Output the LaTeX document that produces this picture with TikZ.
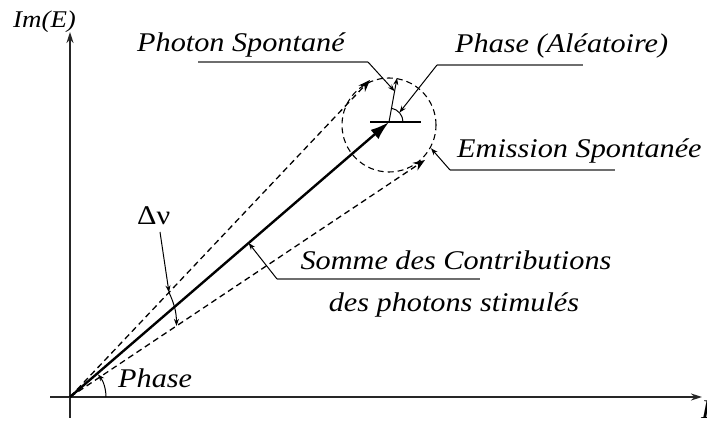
\documentclass[tikz,border=0pt]{standalone}
\usepackage{fontspec}
\setmainfont{Liberation Serif}
\newfontfamily\lblfont[FakeStretch=1.12]{Liberation Serif}
\usepackage{tikz}
\usetikzlibrary{arrows.meta, calc}
\definecolor{leadgray}{HTML}{6E6E6E}

\begin{document}
\begin{tikzpicture}[x=1pt, y=1pt,
  lbl/.style={font=\fontsize{27}{30}\lblfont\itshape, inner sep=0pt,
    anchor=base west},
  axis/.style={line width=1.7pt, black!85,
    -{Stealth[length=11pt, width=7pt]}},
  vec/.style={line width=2.4pt, -{Latex[length=19pt, width=12pt]}},
  dvec/.style={line width=1.3pt, dash pattern=on 6pt off 4pt,
    -{Stealth[length=12pt, width=9pt]}},
  uline/.style={line width=1.5pt, leadgray},
  tip/.style={line width=1pt, -{Stealth[length=7pt, width=5pt]}}
]
  \useasboundingbox (0,0) rectangle (707,423);

  % Axes
  \coordinate (o) at (70,26);
  \coordinate (xl) at (50,26);
  \coordinate (xr) at (702,26);
  \coordinate (yb) at (70,5);
  \coordinate (yt) at (70,391);
  \draw[axis] (xl) -- (xr);
  \draw[axis] (yb) -- (yt);
  \node[lbl, font=\fontsize{24}{26}\lblfont\itshape] (im) at (13,395) {Im(E)};
  \node[lbl] (re) at (701,4) {Re(E)};

  % Resulting field and spontaneous emission circle
  \coordinate (t) at (389,301);
  \coordinate (c) at (389,298);
  \coordinate (hl) at (370,301);
  \coordinate (hr) at (421,301);
  \draw[line width=1.1pt, dash pattern=on 6pt off 4pt] (c) circle[radius=47];
  \draw[vec] (o) -- (t);
  \draw[line width=1.5pt] (hl) -- (hr);

  % Stimulated photons
  \coordinate (u) at (370,343);
  \coordinate (l) at (425,263);
  \foreach \e in {u, l} {
    \draw[dvec] (o) -- (\e);
  }

  % Spontaneous photon and random phase
  \coordinate (p) at (397,345);
  \draw[tip] (t) -- (p);
  \draw[line width=1pt] ($(t)+(14,0)$) arc (0:80:14);

  % Labels
  \node[lbl] (ps) at (137,371) {Photon Spontané};
  \coordinate (ps1) at (198,361);
  \coordinate (ps2) at (368,361);
  \draw[uline] (ps1) -- (ps2);
  \draw[tip] (ps2) -- ($(t)!0.7!(p)$);

  \node[lbl] (pa) at (455,370) {Phase (Aléatoire)};
  \coordinate (pa1) at (437,358);
  \coordinate (pa2) at (583,358);
  \draw[uline] (pa1) -- (pa2);
  \draw[tip] (pa1) -- ($(t)+(42:14)$);

  \node[lbl] (es) at (457,265) {Emission Spontanée};
  \coordinate (es1) at (450,253);
  \coordinate (es2) at (615,253);
  \draw[uline] (es1) -- (es2);
  \draw[tip] (es1) -- ($(c)+(-29:48)$);

  \node[lbl, anchor=base] (sc) at (456,153) {Somme des Contributions};
  \node[lbl, anchor=base] (sp) at (454,111) {des photons stimulés};
  \coordinate (sc1) at (277,144);
  \coordinate (sc2) at (480,144);
  \draw[uline] (sc1) -- (sc2);
  \draw[tip] (sc1) -- ($(o)!0.56!(t)$);

  % Spread
  \node[lbl, font=\fontsize{27}{30}\lblfont] (dn) at (137,198) {Δν};
  \coordinate (dn0) at (160,191);
  \coordinate (dnu) at ($(o)!0.33!(u)$);
  \coordinate (dnl) at ($(o)!0.3!(l)$);
  \draw[tip] (dn0) -- (dnu);
  \draw[tip] (dnu) to[bend left=12] (dnl);

  % Phase
  \node[lbl] (ph) at (118,35) {Phase};
  \draw[tip] ($(o)+(36,0)$) arc (0:39:36);
\end{tikzpicture}
\end{document}
